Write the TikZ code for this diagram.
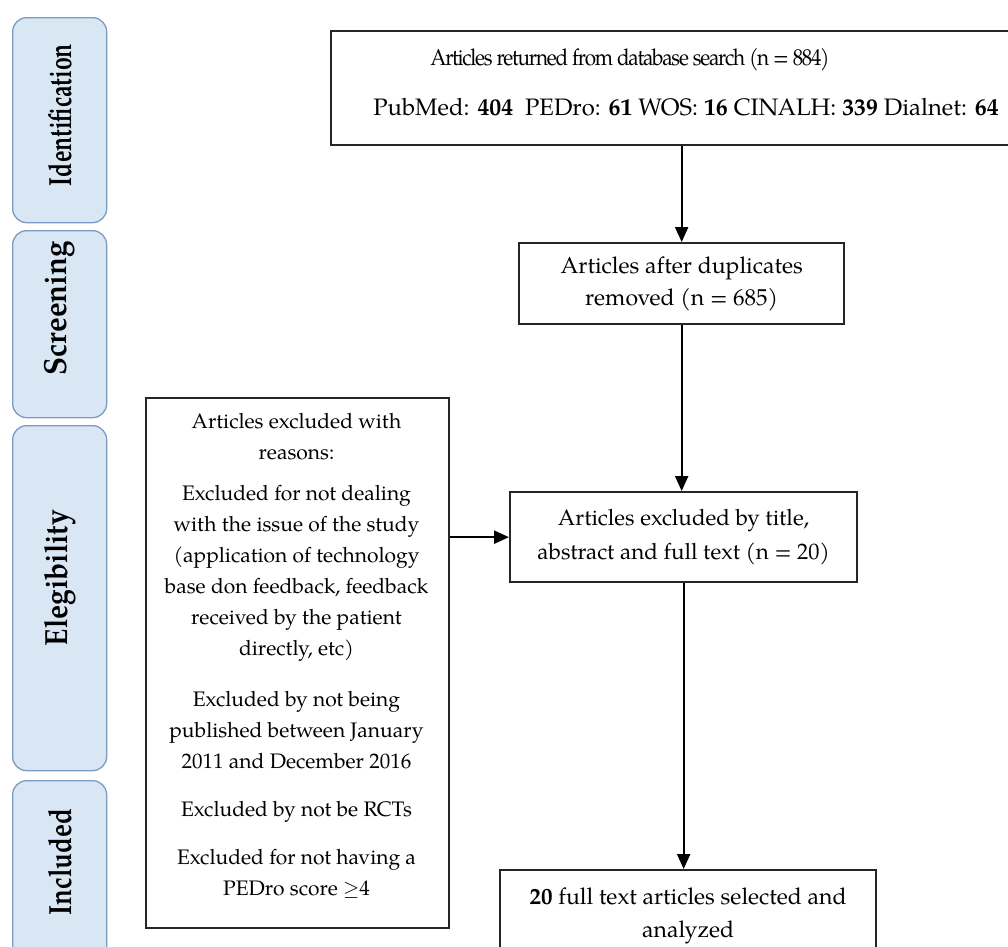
\documentclass[tikz,border=0pt]{standalone}
\usepackage{fontspec}
\setmainfont{TeX Gyre Pagella}
\usetikzlibrary{arrows.meta}
\definecolor{panelfill}{HTML}{D9E6F4}
\definecolor{paneldraw}{HTML}{7B9BC2}
\definecolor{boxdraw}{HTML}{262626}
\begin{document}
\begin{tikzpicture}[x=1pt,y=-1pt,
  panel/.style={draw=paneldraw, fill=panelfill, line width=1.3pt, rounded corners=14pt, anchor=north west, minimum width=94, inner sep=0pt},
  lbl/.style={font=\fontsize{32}{36}\selectfont\bfseries, rotate=90, inner sep=0pt},
  flowbox/.style={draw=boxdraw, line width=2.3pt, fill=white, inner sep=0pt, anchor=north west, align=center},
  txt/.style={inner sep=0pt, align=center},
  arr/.style={draw=black, line width=2.2pt, -{Triangle[length=15pt,width=13pt]}}
]
\useasboundingbox (0,0) rectangle (1008,946);
\clip (0,0) rectangle (1008,946);

% side panels
\node[panel, minimum height=205] (pid) at (12,17) {};
\node[panel, minimum height=187] (psc) at (12,230) {};
\node[panel, minimum height=345] (pel) at (12,425) {};
\node[panel, minimum height=190] (pin) at (12,780) {};
\node[lbl] (lid) at (60,115) {\scalebox{0.72}[1]{Identification}};
\node[lbl] (lsc) at (60,308) {\scalebox{0.92}[1]{Screening}};
\node[lbl] (lel) at (60,578) {\scalebox{0.88}[1]{Elegibility}};
\node[lbl] (lin) at (60,862) {\scalebox{0.81}[1]{Included}};

% top box
\node[flowbox, minimum width=684, minimum height=114] (top) at (330,30) {};
\node[txt, font=\fontsize{23}{26}\selectfont\addfontfeature{LetterSpace=-6}] (t1) at (630,60) {\scalebox{0.9}[1]{Articles returned from database search (n = 884)}};
\node[txt, font=\fontsize{23.8}{28}\selectfont] (t2) at (686,107) {PubMed: \textbf{404}\ \ PEDro: \textbf{61} WOS: \textbf{16} CINALH: \textbf{339} Dialnet: \textbf{64}};

% duplicates removed
\node[flowbox, minimum width=325, minimum height=81, font=\fontsize{23}{32}\selectfont] (dup) at (518,242) {Articles after duplicates\\removed (n = 685)};

% excluded by title
\node[flowbox, minimum width=347, minimum height=90, font=\fontsize{22.4}{34}\selectfont] (tae) at (509,491) {Articles excluded by title,\\abstract and full text (n = 20)};

% final
\node[flowbox, minimum width=376, minimum height=92, font=\fontsize{23}{33}\selectfont] (final) at (499,869) {\textbf{20} full text articles selected and\\analyzed};

% left exclusion box
\node[flowbox, minimum width=303, minimum height=530] (excl) at (145,397) {};
\node[txt, anchor=north, font=\fontsize{21}{31}\selectfont] (excltext) at (296.5,413) {Articles excluded with\\reasons:\\[10pt]
Excluded for not dealing\\with the issue of the study\\(application of technology\\base don feedback, feedback\\received by the patient\\directly, etc)\\[20pt]
Excluded by not being\\published between January\\2011 and December 2016\\[17pt]
Excluded by not be RCTs\\[17pt]
Excluded for not having a\\PEDro score $\geq$4};

% connectors
\draw[arr] (dup.north |- top.south) -- (dup.north);
\draw[arr] (dup.south) -- (dup.south |- tae.north);
\draw[arr] (tae.south) -- (tae.south |- final.north);
\draw[arr] (excl.east |- tae.west) -- (tae.west);
\end{tikzpicture}
\end{document}
